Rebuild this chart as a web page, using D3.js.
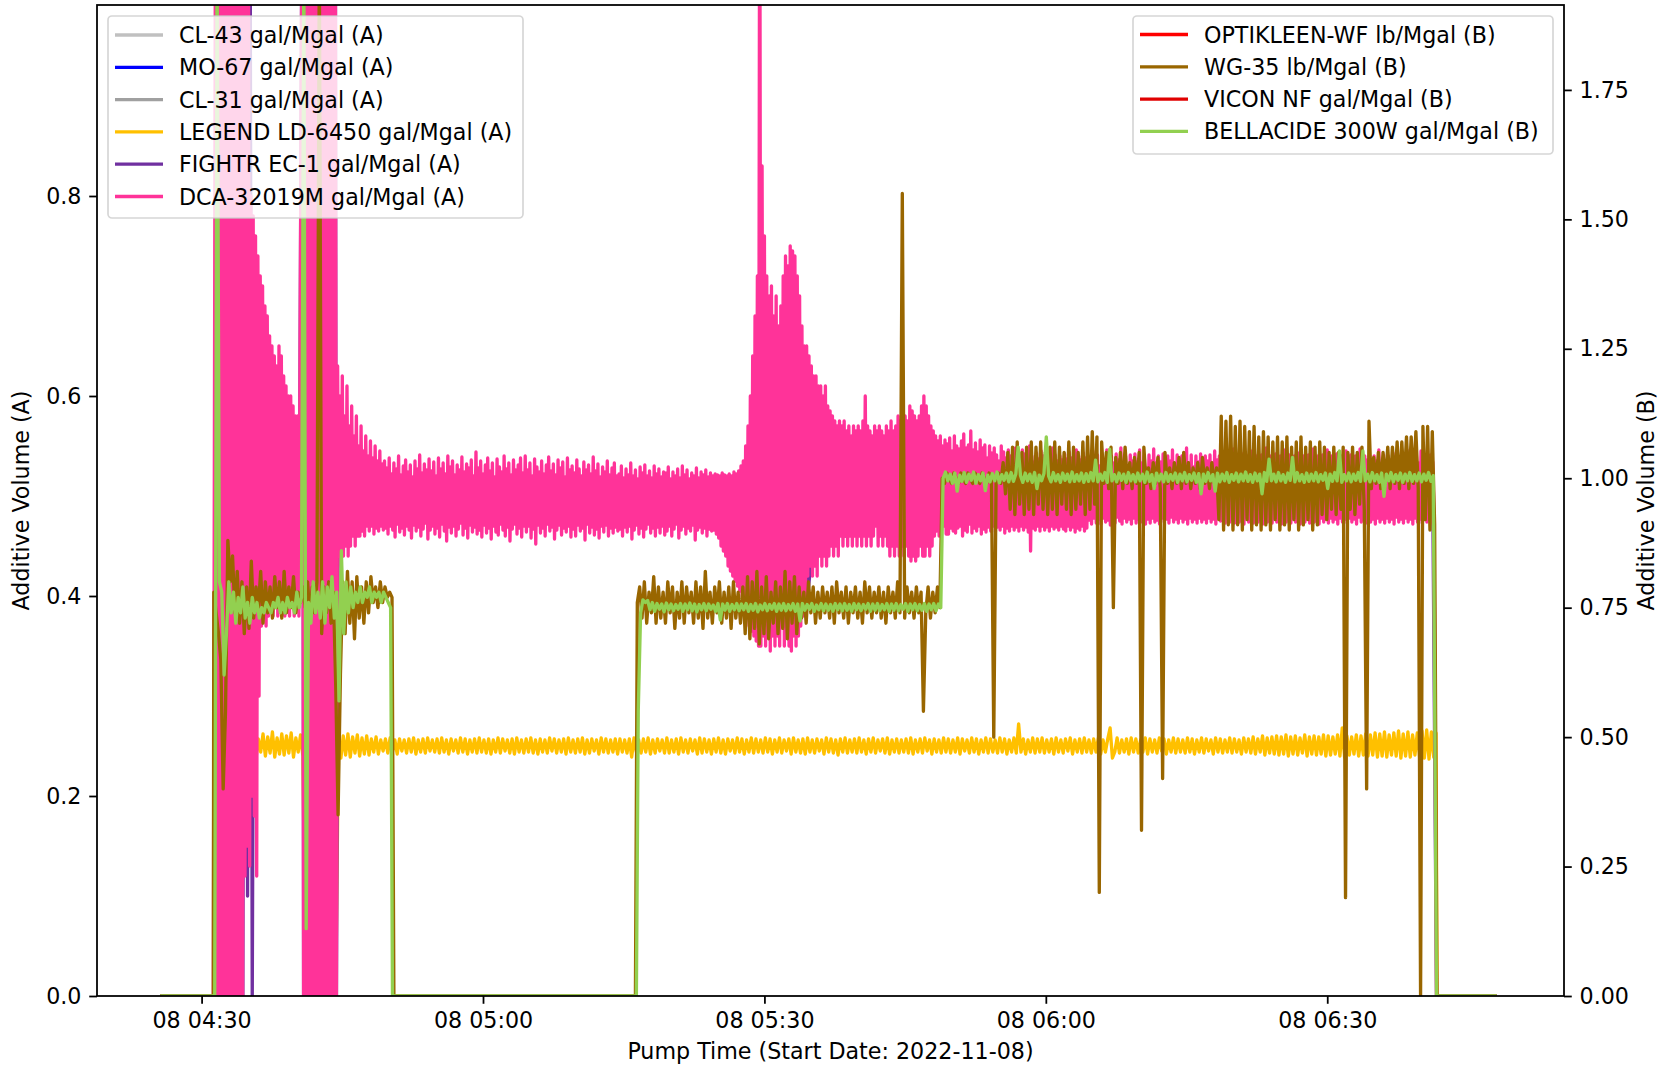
<!DOCTYPE html>
<html><head><meta charset="utf-8">
<script src="https://cdn.jsdelivr.net/npm/d3@7"></script>
<style>
html,body{margin:0;padding:0;background:#fff;}
svg{display:block;}
</style></head>
<body><svg id="chart" width="1668" height="1067"></svg>
<script>
// ---------------- DATA ----------------
// time is given in minutes after 2022-11-08 04:00 (UTC used as wall clock)
const startDate = [2022, 10, 8, 4, 0];
const xDomainMinutes = [18.85, 175.24];
const yADomain = [0, 0.991];
const yBDomain = [0, 1.914];
const yATicks = [0, 0.2, 0.4, 0.6, 0.8];
const yBTicks = [0, 0.25, 0.5, 0.75, 1.0, 1.25, 1.5, 1.75];
const xTickEveryMinutes = 30;

const seriesNames = ["CL-43 gal/Mgal (A)", "MO-67 gal/Mgal (A)", "CL-31 gal/Mgal (A)", "LEGEND LD-6450 gal/Mgal (A)", "FIGHTR EC-1 gal/Mgal (A)", "DCA-32019M gal/Mgal (A)", "OPTIKLEEN-WF lb/Mgal (B)", "WG-35 lb/Mgal (B)", "VICON NF gal/Mgal (B)", "BELLACIDE 300W gal/Mgal (B)"];
const seriesAxis = ["A","A","A","A","A","A","B","B","B","B"];
const seriesColors = ["#c0c0c0", "#0000ff", "#a0a0a0", "#ffc000", "#7030a0", "#ff3399", "#ff0000", "#996600", "#e00000", "#92d050"];

// each run: [start minute, step minutes, values]
const cl43Runs = [];
const mo67Runs = [];
const cl31Runs = [];
const optikleenRuns = [];
const viconRuns = [];

const legendLdRuns = [
  [25.6, 8.4, [0, 0]],
  [34.3, 0.25, [.25,.262,.24,.258,.242,.261,.238,.257,.244,.262,.24,.259,.243,.264,.239,.258,.242,.262,.241,.26,.243,.263,.239,.258,.244,.261,.24]],
  [41.1, 3.2, [0, 0]],
  [44.6, 0.25, [
    .264,.238,.26,.241,.262,.239,.259,.243,.261,.24,.258,.242,.26,.241,.257,.244,.259,.242,.256,.245,
    .257,.243,.258,.244,.256,.242,.257,.245,.256,.243,.257,.244,.258,.242,.256,.244,.257,.243,.258,.245,
    .256,.244,.257,.243,.258,.244,.256,.242,.257,.245,.256,.243,.258,.244,.257,.242,.256,.244,.257,.243,
    .258,.244,.256,.243,.257,.242,.256,.244,.258,.243,.257,.245,.256,.243,.257,.242,.258,.244,.256,.243,
    .257,.244,.258,.243,.256,.242,.257,.244,.256,.243,.258,.245,.257,.243,.256,.244,.257,.242,.258,.244,
    .256,.243,.257,.244,.258,.242,.256,.243,.257,.245,.256,.242,.258,.244,.257,.243,.256,.244,.257,.242,
    .257,.244,.256,.243,.257,.239,.258,.244,.256,.243,.257,.244,.258,.242,.256,.243,.257,.245,.256,.243,
    .258,.243,.256,.244,.257,.242,.258,.244,.256,.243,.257,.245,.256,.242,.258,.243,.257,.244,.256,.242,
    .257,.244,.258,.243,.256,.242,.257,.245,.256,.243,.258,.244,.257,.242,.256,.244,.258,.243,.257,.244,
    .256,.243,.258,.244,.257,.242,.256,.244,.258,.243,.256,.245,.257,.242,.258,.244,.256,.243,.257,.242,
    .258,.244,.256,.243,.257,.245,.256,.242,.258,.244,.257,.243,.256,.241,.257,.244,.258,.243,.256,.244,
    .257,.243,.258,.244,.256,.242,.257,.244,.258,.243,.256,.245,.257,.243,.258,.242,.256,.244,.257,.243,
    .256,.244,.257,.243,.258,.242,.256,.244,.257,.243,.258,.245,.256,.242,.257,.244,.256,.243,.258,.244,
    .257,.243,.256,.244,.258,.242,.257,.245,.256,.243,.258,.244,.257,.242,.256,.244,.258,.243,.257,.244,
    .256,.243,.258,.244,.257,.242,.256,.244,.258,.243,.272,.244,.257,.242,.256,.244,.258,.243,.257,.244,
    .258,.243,.256,.244,.257,.242,.258,.244,.256,.243,.257,.245,.258,.242,.256,.244,.257,.243,.258,.244,
    .256,.243,.257,.244,.258,.242,.256,.244,.257,.268,.238,.244,.258,.243,.256,.244,.257,.242,.258,.244,
    .257,.243,.256,.244,.258,.242,.257,.244,.256,.243,.258,.245,.257,.242,.256,.244,.258,.243,.257,.244,
    .256,.243,.258,.244,.257,.242,.256,.244,.258,.243,.257,.245,.256,.242,.258,.244,.257,.243,.256,.244,
    .258,.243,.257,.244,.256,.242,.258,.244,.257,.243,.259,.242,.257,.244,.26,.241,.258,.243,.259,.242,
    .26,.241,.259,.242,.261,.24,.259,.242,.26,.241,.258,.243,.261,.24,.259,.242,.26,.241,.259,.242,
    .261,.24,.26,.241,.259,.242,.261,.24,.268,.239,.26,.241,.259,.242,.261,.24,.26,.241,.262,.24,
    .261,.241,.263,.239,.262,.24,.264,.239,.261,.241,.263,.24,.265,.238,.262,.24,.264,.239,.261,.241,
    .263,.239,.265,.238,.266,.237,.264,.239,.263]],
  [161.7, 6.35, [0, 0]]
];

const fightrRuns = [
  [25.6, 5.8, [0, 0]],
  [31.65, 0.25, [1.2,0,1.2,.05,1.2,0,1.2,0,1.2,0,1.2,0,1.2,.1,1.2,0,.7,.38,.62,.40]],
  [36.9, 0.5, [.6,.4,.58,.41,.6,.4,.57,.41]],
  [40.75, 0.125, [1.2,0,1.2,0,1.2,0,1.2,0,1.2,0,1.2,0,1.2,0,1.2,0,1.2,0,1.2,0,1.2,0,1.2,0,1.2,0,1.2,0,1.2,0]],
  [44.6, 2, [
    .58,.47,.52,.48,.51,.48,.515,.475,.51,.48,
    .515,.475,.51,.48,.515,.475,.51,.48,.51,.475,
    .50,.43,.55,.40,.70,.40,.58,.46,.55,.47,
    .55,.46,.55,.48,.53,.48,.53,.48,.53,.48,
    .52,.48,.53,.49,.52,.48,.53,.49,.52,.49,
    .52,.49,.53,.49,.52,.49,.52,.49,.51]],
  [161.25, 0.4, [.5, 0]],
  [168.05, 1, [0]]
];

const dcaRuns = [
  [25.6, 5.65, [0, 0]],
  [31.5, 0.125, [1.2,0,1.2,0,1.2,0,1.2,0,1.2,0,1.2,0,1.2,0,1.2,0,1.2,0,1.2,0,1.2,0,1.2,0,1.2]],
  [34.625, 0.125, [.12,1.1,.15,1.0,.13,.80,.2,.78,.18,.76,.12,.74,.3,.72,.37,.71,.38,.69,.37,.68,.38,.66,.39,.65,.38,.64,.39,.63,.38,.65,.4,.64,.39,.62,.38,.61,.39,.60,.38,.60,.39,.59,.38,.58,.39,.58,.38]],
  [40.75, 0.125, [1.2,0,1.2,0,1.2,0,1.2,0,1.2,0,1.2,0,1.2,0,1.2,0,1.2,0,1.2,0,1.2,0,1.2,0,1.2,0,1.2,0,1.2,0]],
  [44.5, 0.125, [.63,.44,.60,.43,.62,.44,.58,.45,.61,.44,.57,.45,.59,.46,.56,.45,.58,.46,.55,.46,.57,.465,.545,.46,.56,.47,.54,.465,.555,.47,.538,.462,.55,.468,.535,.465,.545,.47,.532,.466]],
  [49.5, 0.125, [.535,.468,.528,.462,.538,.47,.522,.466,.533,.459,.527,.472,.54,.464,.521,.468,.53,.461,.536,.47,.524,.466,.531,.458,.519,.471,.535,.465,.527,.469,.541,.46,.523,.467,.532,.473,.526,.457,.537,.466]],
  [54.5, 0.125, [.525,.47,.534,.462,.52,.468,.538,.459,.527,.472,.533,.465,.522,.455,.54,.469,.529,.463,.535,.47,.521,.46,.531,.467,.526,.473,.539,.461,.524,.468,.532,.458,.528,.471,.536,.464,.52,.469,.544,.462]],
  [59.5, 0.125, [.528,.466,.535,.459,.522,.471,.531,.463,.538,.468,.525,.457,.533,.47,.519,.464,.537,.461,.529,.472,.524,.466,.54,.46,.527,.469,.533,.455,.521,.467,.536,.472,.526,.462,.531,.468,.538,.459,.523,.47]],
  [64.5, 0.125, [.54,.464,.526,.47,.533,.458,.52,.467,.537,.452,.529,.471,.524,.463,.535,.468,.522,.46,.531,.472,.539,.465,.525,.469,.532,.457,.521,.466,.536,.471,.528,.461,.534,.468,.519,.464,.538,.47,.526,.459]],
  [69.5, 0.125, [.53,.467,.523,.46,.536,.471,.527,.465,.52,.468,.534,.456,.526,.472,.531,.463,.522,.469,.539,.461,.525,.467,.532,.458,.519,.47,.529,.464,.524,.471,.535,.46,.521,.468,.528,.463,.533,.469,.52,.465]],
  [74.5, 0.125, [.522,.467,.53,.46,.518,.469,.527,.464,.521,.47,.533,.457,.52,.466,.526,.471,.517,.462,.529,.468,.523,.459,.531,.467,.52,.472,.525,.463,.518,.468,.53,.46,.522,.469,.527,.463,.519,.47,.524,.461]],
  [79.5, 0.125, [.523,.465,.529,.47,.517,.46,.524,.467,.52,.472,.527,.458,.518,.466,.53,.47,.521,.462,.526,.468,.517,.465,.523,.471,.52,.456,.528,.466,.518,.469,.524,.463,.521,.468,.526,.46,.519,.467,.523,.465]],
  [84.5, 0.125, [.52,.466,.522,.462,.521,.458,.52,.45,.523,.445,.521,.44,.52,.43,.522,.425,.52,.42,.524,.415,.522,.41,.525,.405,.53,.40,.535,.39,.55,.38,.57,.37,.60,.365,.64,.36,.68,.355,.72,.35]],
  [89.5, 0.125, [1.2,.35,.83,.36,.76,.35,.72,.36,.70,.345,.71,.36,.68,.35,.70,.36,.67,.35,.69,.37,.72,.35,.74,.36,.73,.35,.75,.345,.745,.36,.74,.35,.72,.36,.70,.37,.67,.38,.65,.40]],
  [94.5, 0.125, [.65,.42,.64,.43,.63,.42,.62,.43,.62,.42,.61,.44,.61,.43,.60,.44,.61,.43,.59,.44,.585,.45,.58,.44,.575,.45,.57,.44,.575,.46,.57,.45,.575,.46,.565,.45,.57,.46,.56,.45]],
  [99.5, 0.125, [.57,.46,.565,.45,.57,.46,.565,.45,.575,.46,.60,.45,.57,.46,.565,.45,.56,.46,.57,.47,.565,.45,.57,.46,.565,.45,.56,.46,.57,.45,.565,.44,.575,.45,.565,.44,.57,.45,.58,.44]],
  [104.5, 0.125, [.575,.45,.57,.44,.58,.45,.575,.44,.59,.435,.585,.44,.58,.435,.575,.44,.58,.45,.59,.44,.60,.44,.59,.45,.58,.44,.57,.45,.565,.46,.56,.465,.555,.46,.56,.465,.55,.47,.556,.462]],
  [109.5, 0.125, [.552,.462,.558,.468,.545,.465,.56,.463,.55,.468,.547,.47,.555,.46,.562,.466,.548,.464,.551,.472,.565,.463,.546,.468,.553,.465,.544,.47,.556,.462,.548,.467,.551,.464,.538,.469,.55,.465,.543,.47]],
  [114.5, 0.125, [.548,.464,.541,.469,.535,.466,.55,.47,.544,.463,.538,.468,.546,.465,.54,.47,.534,.466,.548,.469,.54,.465,.535,.47,.546,.466,.542,.469,.536,.464,.55,.445,.54,.468,.534,.466,.543,.47,.537,.465]],
  [119.5, 0.125, [.545,.47,.54,.466,.536,.469,.542,.465,.535,.47,.548,.467,.541,.469,.535,.466,.54,.47,.536,.467,.542,.465,.537,.47,.544,.466,.538,.469,.535,.464,.546,.468,.54,.466,.536,.47,.543,.465,.538,.468]],
  [124.5, 0.125, [.54,.476,.535,.472,.545,.478,.536,.473,.541,.477,.53,.472,.54,.478,.534,.474,.546,.476,.535,.471,.54,.477,.533,.473,.542,.479,.536,.475,.548,.472,.533,.478,.54,.474,.529,.477,.541,.472,.535,.478]],
  [129.5, 0.125, [.542,.473,.534,.477,.546,.474,.533,.479,.54,.472,.528,.477,.541,.473,.535,.478,.547,.474,.533,.476,.54,.472,.534,.478,.542,.474,.529,.477,.54,.473,.535,.479,.546,.474,.532,.477,.541,.473,.528,.478]],
  [134.5, 0.125, [.54,.474,.535,.477,.548,.472,.533,.478,.541,.474,.529,.477,.54,.473,.534,.478,.542,.474,.533,.477,.54,.473,.535,.478,.541,.474,.533,.477,.545,.472,.536,.478,.54,.475,.531,.477,.543,.473,.535,.478]],
  [139.5, 0.125, [.541,.474,.534,.477,.547,.473,.532,.478,.54,.474,.536,.477,.542,.472,.533,.479,.54,.474,.529,.477,.545,.473,.535,.478,.54,.474,.532,.477,.541,.472,.536,.478,.548,.474,.533,.477,.54,.473,.534,.478]],
  [144.5, 0.125, [.542,.474,.533,.477,.54,.472,.535,.478,.546,.474,.532,.477,.541,.473,.528,.478,.54,.474,.535,.477,.543,.472,.533,.479,.54,.474,.536,.477,.541,.473,.534,.478,.547,.474,.532,.477,.54,.472,.535,.478]],
  [149.5, 0.125, [.541,.474,.533,.477,.546,.473,.535,.478,.54,.474,.529,.477,.542,.472,.534,.478,.54,.474,.536,.477,.545,.473,.532,.478,.541,.474,.535,.477,.54,.472,.533,.479,.547,.474,.534,.477,.54,.473,.536,.478]],
  [154.5, 0.125, [.541,.474,.533,.477,.54,.472,.535,.478,.546,.474,.532,.477,.541,.473,.534,.478,.54,.474,.536,.477,.543,.472,.533,.479,.54,.474,.535,.477,.541,.473,.534,.478,.546,.474,.532,.477,.54,.472,.535,.478]],
  [159.5, 0.125, [.541,.474,.533,.477,.545,.473,.535,.478,.54,.474,.532,.477,.541,.473,.534,.477]],
  [161.65, 6.4, [0, 0]]
];

const wg35Runs = [
  [25.6, 5.65, [0, 0]],
  [31.3, 0.25, [
    .78,.74,.70,.65,.40,.55,.88,.80,.85,.74,.82,.72,.80,.70,.79,.71,.84,.73,.79,.75,
    .82,.72,.80,.74,.79,.73,.81,.75,.80,.73,.82,.74,.79,.75,.81,.74,.78,.76,.79,.75,
    .80,.73,.79,.74,.80,2.0,.70,.79,.74,.80,.72,.78,.60,.35,.62,.80,.70,.82,.72,.80,
    .69,.81,.73,.79,.72,.80,.74,.81,.76,.79,.75,.80,.76,.79,.77,.78,.77]],
  [50.5, 25.75, [0, 0]],
  [76.45, 0.25, [.76,
    .79,.73,.80,.72,.78,.74,.81,.72,.79,.73,.78,.72,.80,.74,.79,.71,.78,.73,.80,.72,
    .79,.74,.78,.72,.80,.73,.79,.71,.82,.73,.78,.72,.79,.74,.80,.72,.78,.73,.79,.71,
    .80,.73,.78,.72,.79,.70,.81,.69,.80,.71,.82,.68,.79,.70,.81,.69,.78,.72,.80,.70,
    .79,.71,.82,.69,.80,.72,.81,.70,.79,.73,.78,.72,.80,.74,.79,.72,.78,.73,.79,.74,
    .78,.73,.79,.72,.80,.74,.78,.73,.79,.72,.78,.74,.79,.73,.78,.72,.80,.74,.79,.73,
    .78,.74,.79,.73,.78,.72,.79,.74,.78,.73,.80,.74,1.55,.73,.79,.74,.78,.73,.79,.74,
    .78,.55,.74,.79,.73,.78,.74,.79,.75]],
  [108.95, 0.25, [
    1.0,.99,1.01,1.0,.99,1.01,1.0,.99,1.01,1.0,
    .99,1.01,1.0,.99,1.01,1.0,.99,1.01,1.0,.99,
    1.01,1.0,.50,1.0,1.01,.99,1.03,.97,1.05,.94,
    1.06,.93,1.07,.95,1.05,.93,1.06,.94,1.07,.93,
    1.06,.95,1.07,.94,1.05,.93,1.06,.94,1.07,.93,
    1.06,.95,1.05,.94,1.07,.93,1.06,.94,1.05,.95,
    1.07,.93,1.08,.94,1.09,.95,1.08,.20,1.07,.99,
    1.05,.98,1.06,.75,1.04,.99,1.05,.98,1.06,.99,
    1.03,.98,1.04,.99,1.05,.32,1.06,.99,1.02,.98,
    1.03,.99,1.04,.98,.42,1.05,.99,1.02,.98,1.03,
    .99,1.04,.98,1.05,.99,1.03,.98,1.02,.99,1.03,
    .98,1.04,.99,1.02,.98,1.03,.99,1.02,.92,1.12,
    .90,1.11,.91,1.12,.90,1.10,.91,1.11,.90,1.10,
    .92,1.09,.90,1.10,.91,1.08,.90,1.09,.91,1.08,
    .90,1.07,.92,1.08,.90,1.07,.91,1.08,.90,1.06,
    .92,1.07,.90,1.08,.91,1.06,.92,1.07,.90,1.06,
    .91,1.07,.93,1.06,.92,1.05,.94,1.06,.93,1.05,
    .94,1.06,.19,1.05,.94,1.06,.93,1.05,.95,1.06,
    .94,.40,1.11,.98,1.04,.99,1.05,.98,1.05,.99,
    1.06,.98,1.06,.99,1.07,.98,1.07,.99,1.08,.98,
    1.08,.99,1.09,.98,0,1.10,.92,1.10,.90,1.09,.91]],
  [161.7, 6.35, [0, 0]]
];

const bellacideRuns = [
  [25.6, 5.8, [0, 0]],
  [31.65, 0.25, [2.0,
    .80,.78,.62,.70,.80,.74,.78,.72,.77,.74,.79,.73,.76,.72,.77,.74,.76,.73,.75,.74,
    .76,.75,.74,.76,.75,.77,.74,.76,.74,.77,.75,.76,.74,.78,.75,.77,
    2.0,.13,
    .76,.72,.80,.74,.78,.73,.80,.72,.79,.75,.81,.73,.78,
    .57,.86,.70,
    .80,.74,.79,.75,.78,.76,.79,.76,.78,.77,.79,.76,.78,.77,.78,.76,.78,.77,.76,.75]],
  [50.35, 26.0, [0, 0]],
  [76.55, 0.25, [.55, .74, .765, .76]],
  [77.55, 0.25, [
    .764,.746,.76,.743,.758,.747,.757,.742,.759,.746,.757,.744,.756,.747,.758,.743,.757,.746,.759,.744,
    .757,.742,.756,.746,.758,.744,.757,.747,.755,.743,.758,.726,.757,.745,.758,.743,.756,.746,.758,.744,
    .757,.746,.758,.743,.756,.745,.758,.742,.755,.746,.758,.744,.756,.747,.758,.743,.757,.745,.758,.744,
    .756,.746,.758,.743,.757,.724,.758,.745,.756,.747,.758,.743,.755,.746,.758,.744,.757,.745,.756,.743,
    .758,.746,.757,.744,.758,.745,.756,.743,.758,.746,.757,.744,.756,.747,.758,.743,.757,.745,.758,.744,
    .756,.746,.758,.743,.757,.745,.758,.744,.756,.747,.758,.743,.757,.746,.758,.744,.756,.745,.758,.743,
    .757,.746,.758,.744,.757]],
  [108.8, 0.25, [.75, 1.0]],
  [109.3, 0.25, [
    1.012,.995,1.008,.99,1.01,.975,1.006,.994,1.011,.992,1.008,.996,1.012,.99,1.007,.995,1.01,.976,1.006,.993,
    1.009,.995,1.012,.991,1.007,.996,1.01,.993,1.011,.994,1.008,1.06,1.005,.992,1.01,.995,1.008,.992,1.011,.98,
    1.006,.995,1.009,1.08,1.004,.993,1.011,.995,1.007,.992,1.01,.996,1.008,.993,1.012,.994,1.007,.995,1.01,.992,
    1.009,.994,1.011,.995,1.035,.993,1.008,.996,1.011,.992,1.056,.995,1.007,.993,1.01,.996,1.008,.992,1.011,.995,
    1.007,.993,1.01,.995,1.008,.992,1.012,.994,1.007,.98,1.01,.995,1.008,.993,1.011,.994,1.007,.996,1.01,.992,
    1.008,.995,1.011,.993,1.007,.996,1.01,.992,1.009,.97,1.008,.994,1.011,.995,1.007,.975,1.01,.993,1.008,.995,
    1.011,.992,1.007,.996,1.01,.993,1.008,.995,1.012,.994,1.007,.992,1.01,.995,1.008,.97,1.011,.994,1.037,.995,
    1.008,.993,1.011,.995,1.007,.992,1.01,.996,1.04,.993,1.011,.995,1.007,.992,1.01,.994,1.008,.995,1.011,.993,
    1.007,.996,1.01,.98,1.008,.994,1.011,.995,1.053,.992,1.007,.995,1.01,.993,1.008,.996,1.011,.994,1.053,.995,
    1.008,.993,1.011,.995,1.007,.992,1.01,.965,1.008,.995,1.011,.993,1.007,.996,1.01,.992,1.008,.995,1.011,.994,
    1.007,.995,1.01,.993,1.008,.996,1.011,.994,1.005]],
  [161.65, 6.4, [0, 0]]
];

const seriesRuns = [cl43Runs, mo67Runs, cl31Runs, legendLdRuns, fightrRuns, dcaRuns, optikleenRuns, wg35Runs, viconRuns, bellacideRuns];

// ---------------- LAYOUT ----------------
const plot = {left: 97, right: 1564, top: 5, bottom: 996};
const FONT = "'DejaVu Sans', 'Noto Sans', sans-serif";
const FS = 22.2;
const LW = 3.33;
const SPINE = 1.78;
const TICK = 7.78;

const base = Date.UTC(startDate[0], startDate[1], startDate[2], startDate[3], startDate[4]);
const toDate = m => new Date(base + m * 60000);

const x = d3.scaleUtc().domain(xDomainMinutes.map(toDate)).range([plot.left, plot.right]);
const yA = d3.scaleLinear().domain(yADomain).range([plot.bottom, plot.top]);
const yB = d3.scaleLinear().domain(yBDomain).range([plot.bottom, plot.top]);

const svg = d3.select("#chart");
svg.append("rect").attr("width", 1668).attr("height", 1067).attr("fill", "#fff");

svg.append("defs").append("clipPath").attr("id", "plotclip")
  .append("rect").attr("x", plot.left).attr("y", plot.top)
  .attr("width", plot.right - plot.left).attr("height", plot.bottom - plot.top);

function expand(runs) {
  const pts = [];
  runs.forEach(([s, st, vals]) => vals.forEach((v, i) => pts.push({m: s + i * st, v})));
  pts.sort((a, b) => a.m - b.m);
  return pts.map(p => ({t: toDate(p.m), v: p.v}));
}

const lines = svg.append("g").attr("clip-path", "url(#plotclip)");
seriesRuns.forEach((runs, i) => {
  const pts = expand(runs);
  if (!pts.length) return;
  const ys = seriesAxis[i] === "A" ? yA : yB;
  const gen = d3.line().x(d => x(d.t)).y(d => ys(d.v));
  lines.append("path").attr("d", gen(pts))
    .attr("fill", "none").attr("stroke", seriesColors[i])
    .attr("stroke-width", LW).attr("stroke-linejoin", "round");
});

// ---------------- AXES ----------------
function styleAxis(g) {
  g.select(".domain").remove();
  g.selectAll("line").attr("stroke", "#000").attr("stroke-width", SPINE);
  g.selectAll("text").attr("font-size", FS).attr("font-family", FONT).attr("fill", "#000");
}
const axL = svg.append("g").attr("transform", `translate(${plot.left},0)`)
  .call(d3.axisLeft(yA).tickValues(yATicks).tickFormat(d3.format(".1f")).tickSize(TICK).tickPadding(TICK));
styleAxis(axL);
const axR = svg.append("g").attr("transform", `translate(${plot.right},0)`)
  .call(d3.axisRight(yB).tickValues(yBTicks).tickFormat(d3.format(".2f")).tickSize(TICK).tickPadding(TICK));
styleAxis(axR);
const axX = svg.append("g").attr("transform", `translate(0,${plot.bottom})`)
  .call(d3.axisBottom(x).ticks(d3.utcMinute.every(xTickEveryMinutes)).tickFormat(d3.utcFormat("%d %H:%M")).tickSize(TICK).tickPadding(TICK + 1));
styleAxis(axX);

svg.append("rect").attr("x", plot.left).attr("y", plot.top)
  .attr("width", plot.right - plot.left).attr("height", plot.bottom - plot.top)
  .attr("fill", "none").attr("stroke", "#000").attr("stroke-width", SPINE);

// axis titles
svg.append("text").attr("transform", `translate(21,${(plot.top + plot.bottom) / 2}) rotate(-90)`)
  .attr("text-anchor", "middle").attr("dominant-baseline", "central")
  .attr("font-family", FONT).attr("font-size", FS).text("Additive Volume (A)");
svg.append("text").attr("transform", `translate(1646,${(plot.top + plot.bottom) / 2}) rotate(-90)`)
  .attr("text-anchor", "middle").attr("dominant-baseline", "central")
  .attr("font-family", FONT).attr("font-size", FS).text("Additive Volume (B)");
svg.append("text").attr("x", (plot.left + plot.right) / 2).attr("y", 1051)
  .attr("text-anchor", "middle").attr("dominant-baseline", "central")
  .attr("font-family", FONT).attr("font-size", FS).text("Pump Time (Start Date: 2022-11-08)");

// ---------------- LEGENDS ----------------
function legend(idx, box, handleX, textX, firstY, step) {
  const g = svg.append("g");
  g.append("rect").attr("x", box.x).attr("y", box.y).attr("width", box.w).attr("height", box.h)
    .attr("rx", 4).attr("fill", "#fff").attr("fill-opacity", 0.8)
    .attr("stroke", "#cccccc").attr("stroke-opacity", 0.8).attr("stroke-width", 1.7);
  idx.forEach((si, k) => {
    const yy = firstY + k * step;
    g.append("line").attr("x1", handleX[0]).attr("x2", handleX[1]).attr("y1", yy).attr("y2", yy)
      .attr("stroke", seriesColors[si]).attr("stroke-width", LW);
    g.append("text").attr("x", textX).attr("y", yy).attr("dominant-baseline", "central")
      .attr("font-family", FONT).attr("font-size", FS).attr("fill", "#000").text(seriesNames[si]);
  });
}
legend([0,1,2,3,4,5], {x: 108, y: 16, w: 415, h: 202}, [115, 163], 179, 35, 32.3);
legend([6,7,8,9], {x: 1133, y: 16, w: 420, h: 138}, [1140, 1188], 1204, 34.5, 32.3);
</script>
</body></html>
